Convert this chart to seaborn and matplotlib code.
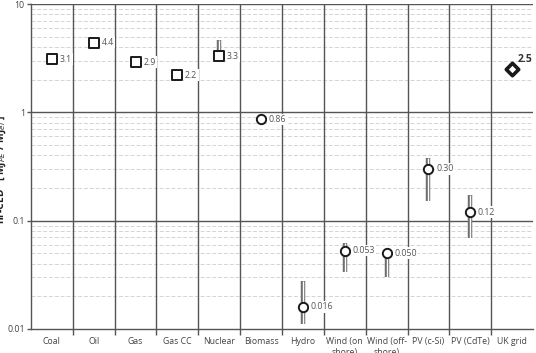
import numpy as np
import pandas as pd
import matplotlib
matplotlib.use("Agg")
import matplotlib.pyplot as plt
import seaborn as sns

categories = ["Coal", "Oil", "Gas", "Gas CC", "Nuclear", "Biomass", "Hydro",
              "Wind (on\nshore)", "Wind (off-\nshore)", "PV (c-Si)", "PV (CdTe)", "UK grid"]
values = [3.1, 4.4, 2.9, 2.2, 3.3, 0.86, 0.016, 0.053, 0.050, 0.30, 0.12, 2.5]
value_labels = ["3.1", "4.4", "2.9", "2.2", "3.3", "0.86", "0.016", "0.053", "0.050", "0.30", "0.12", "2.5"]
groups = ["fossil"] * 5 + ["renewable"] * 6 + ["grid"]
err_low = [np.nan, np.nan, np.nan, np.nan, 3.0, np.nan, 0.0111, 0.0335, 0.030, 0.152, 0.069, np.nan]
err_high = [np.nan, np.nan, np.nan, np.nan, 4.65, np.nan, 0.0277, 0.062, 0.052, 0.378, 0.172, np.nan]

df = pd.DataFrame({"cat": categories, "value": values, "group": groups,
                   "lo": err_low, "hi": err_high, "label": value_labels})
df["x"] = np.arange(len(df))

sns.set_theme(style="white")
plt.rcParams["font.family"] = ["Open Sans", "DejaVu Sans"]

fig = plt.figure(figsize=(5.36, 3.53), dpi=100)
ax = fig.add_axes([31 / 536, 1 - 329 / 353, (533 - 31) / 536, (329 - 4) / 353])
ax.set_yscale("log")
ax.set_ylim(0.01, 10)
ax.set_xlim(-0.5, len(df) - 0.5)

# gridlines
for dec in [0.01, 0.1, 1]:
    for m in range(2, 10):
        ax.axhline(dec * m, color="#d4d4d4", lw=0.7, ls=(0, (4, 2)), zorder=0)
for y in [0.1, 1, 10]:
    ax.axhline(y, color="#555555", lw=1.0, zorder=1)
for b in np.arange(0.5, len(df) - 0.5, 1.0):
    ax.axvline(b, color="#555555", lw=1.0, zorder=1)

# error bars (double-line style)
eb = df.dropna(subset=["lo"])
ax.vlines(eb["x"], eb["lo"], eb["hi"], color="#6e6e6e", lw=3.2, zorder=2)
ax.vlines(eb["x"], eb["lo"], eb["hi"], color="white", lw=1.0, zorder=3)

marker_map = {"fossil": "s", "renewable": "o", "grid": "D"}
for g, sub in df.groupby("group"):
    sns.scatterplot(data=sub, x="x", y="value", marker=marker_map[g], ax=ax,
                    s=45 if g != "grid" else 40, facecolor="white",
                    edgecolor="#1a1a1a", linewidth=1.4 if g != "grid" else 2.6,
                    zorder=4, legend=False)

for _, r in df.iterrows():
    if r["group"] == "grid":
        ax.annotate(r["label"], (r["x"], r["value"]), xytext=(4, 3),
                    textcoords="offset points", fontsize=7.5, fontweight="bold",
                    color="#333333", ha="left", va="bottom", zorder=5)
    else:
        ax.annotate(r["label"], (r["x"], r["value"]), xytext=(5.5, 0),
                    textcoords="offset points", fontsize=6.3, color="#555555",
                    ha="left", va="center", zorder=5,
                    bbox=dict(boxstyle="square,pad=0.15", fc="white", ec="none"))

ax.set_xticks(df["x"])
ax.set_xticklabels(df["cat"], fontsize=6.3, color="#444444", linespacing=1.3)
ax.set_xticks(np.arange(0.5, len(df) - 0.5, 1.0), minor=True)
ax.tick_params(axis="x", which="major", length=0, pad=6)
ax.tick_params(axis="x", which="minor", length=4, color="#555555", width=1.0, bottom=True)
ax.set_yticks([0.01, 0.1, 1, 10])
ax.set_yticklabels(["0.01", "0.1", "1", "10"], fontsize=6.3, color="#444444")
ax.yaxis.set_minor_locator(matplotlib.ticker.NullLocator())
ax.tick_params(axis="y", which="major", length=3, color="#555555", width=1.0, left=True, pad=1.5)
ax.set_xlabel("")
ax.set_ylabel(r"nr-CED   [ MJ$_{PE}$ / MJ$_{el}$ ]", fontsize=7.5, fontweight="bold", color="#222222")
ax.yaxis.set_label_coords(-0.045, 0.49)

for s in ["top", "right"]:
    ax.spines[s].set_visible(False)
for s in ["left", "bottom"]:
    ax.spines[s].set_color("#555555")
    ax.spines[s].set_linewidth(1.0)

fig.savefig("out.png", dpi=100)
